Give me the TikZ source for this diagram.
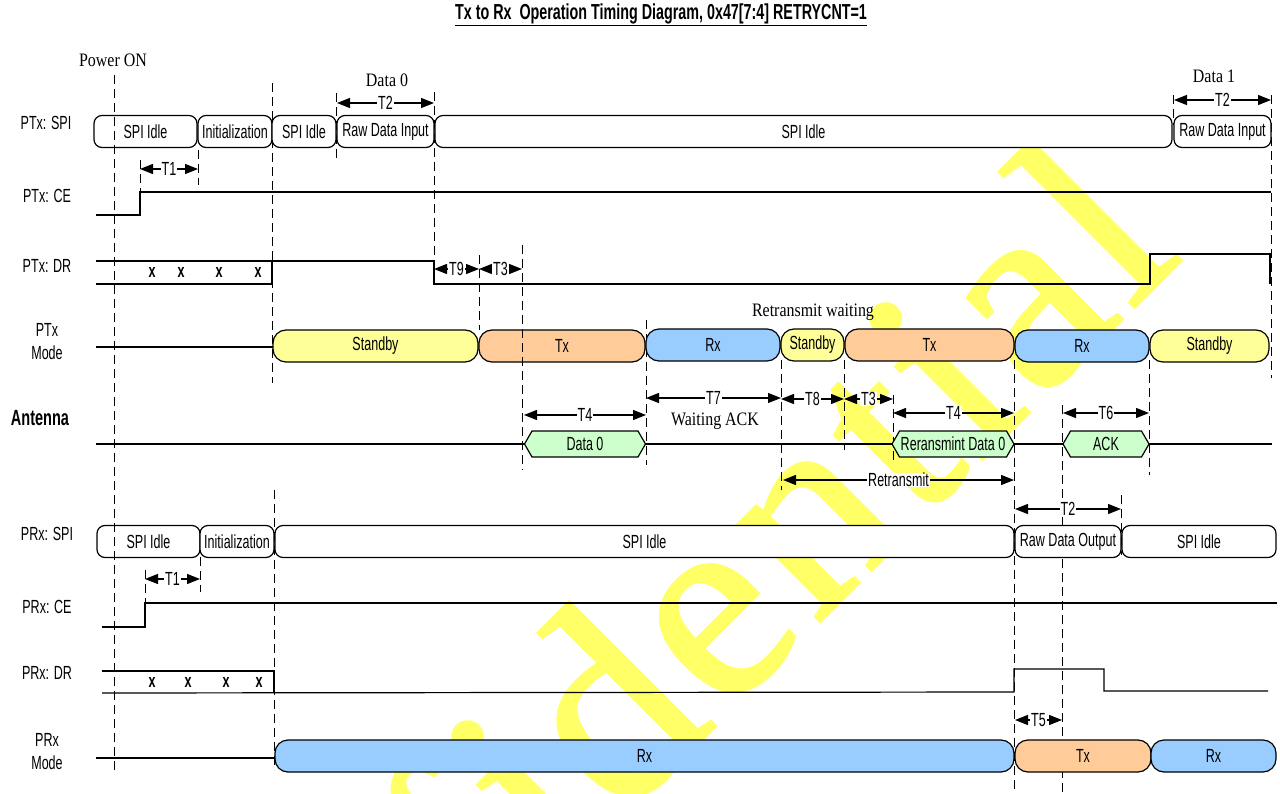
\documentclass[tikz,border=0pt]{standalone}
\usepackage{fontspec}
\setmainfont[FakeStretch=0.66]{Liberation Sans}
\newfontfamily\wordfont[FakeStretch=0.84]{Liberation Serif}
\newfontfamily\markfont[LetterSpace=3,FakeBold=1.2]{Liberation Serif}
\usetikzlibrary{positioning,arrows.meta,shapes.symbols}
\definecolor{standbycol}{HTML}{FFFF99}
\definecolor{txcol}{HTML}{FFCC99}
\definecolor{rxcol}{HTML}{99CCFF}
\definecolor{hexcol}{HTML}{CCFFCC}
\definecolor{markcol}{HTML}{FFFF66}
\begin{document}
\begin{tikzpicture}[
x=1pt, y=-1pt,
every node/.style={font=\fontsize{19}{21}\selectfont, inner sep=0pt, align=center},
spibox/.style={draw, line width=1.2pt, rounded corners=8pt, fill=white, minimum height=32pt, outer sep=0pt},
modebar/.style={draw, line width=1.2pt, rounded corners=13pt, minimum height=32pt, outer sep=0pt},
hexbar/.style={draw, line width=1.2pt, fill=hexcol, shape=signal, signal to=east and west, signal pointer angle=120, minimum height=26pt},
guide/.style={line width=1pt, dash pattern=on 9pt off 5pt},
wave/.style={line width=1.2pt},
span/.style={line width=1.2pt, {Triangle[length=13pt,width=10pt]}-{Triangle[length=13pt,width=10pt]}},
spanlabel/.style={fill=white, inner xsep=1pt, inner ysep=0pt},
wordlabel/.style={font=\fontsize{19}{21}\selectfont\wordfont},
rowlabel/.style={font=\fontsize{19}{23}\selectfont},
xlabel/.style={font=\fontsize{19}{21}\selectfont\bfseries}
]
\useasboundingbox (0,0) rectangle (1280,794);
\node[anchor=base west, rotate=45, text=markcol, font=\fontsize{275}{275}\selectfont\markfont] (watermark) at (148,1293) {Confidential};

\node[font=\fontsize{21.7}{24}\selectfont\bfseries] (title) at (661,15) {\underline{Tx to Rx\ \ Operation Timing Diagram, 0x47[7:4] RETRYCNT=1}};
\node[wordlabel] (poweron) at (113,60) {Power ON};
\node[wordlabel] (dataa) at (387,80) {Data 0};
\node[wordlabel] (datab) at (1214,76) {Data 1};
\node[wordlabel] (retrywait) at (813,312) {Retransmit waiting};
\node[wordlabel] (waitack) at (715,421) {Waiting ACK};

\node[rowlabel] (ptxspi) at (46,123) {PTx: SPI};
\node[rowlabel] (ptxce) at (47,196) {PTx: CE};
\node[rowlabel] (ptxdr) at (47,266) {PTx: DR};
\node[rowlabel] (ptxmode) at (47,342) {PTx\\Mode};
\node[font=\fontsize{22}{24}\selectfont\bfseries] (antenna) at (40,418) {Antenna};
\node[rowlabel] (prxspi) at (47,534) {PRx: SPI};
\node[rowlabel] (prxce) at (47,607) {PRx: CE};
\node[rowlabel] (prxdr) at (47,673) {PRx: DR};
\node[rowlabel] (prxmode) at (47,752) {PRx\\Mode};

\path (272,83) coordinate (ga) (272,383) coordinate (gb);
\path (274,490) coordinate (gc) (274,770) coordinate (gd);
\path (198,150) coordinate (ge) (198,185) coordinate (gf);
\path (140,160) coordinate (gg) (140,192) coordinate (gh);
\path (336,93) coordinate (gi) (336,160) coordinate (gj);
\path (434,92) coordinate (gk) (434,285) coordinate (gl);
\path (479,255) coordinate (gm) (479,330) coordinate (gn);
\path (646,320) coordinate (go) (646,465) coordinate (gp);
\path (781,360) coordinate (gq) (781,490) coordinate (gr);
\path (844,360) coordinate (gs) (844,450) coordinate (gt);
\path (893,395) coordinate (gu) (893,460) coordinate (gv);
\path (1014,360) coordinate (gw) (1014,794) coordinate (gx);
\path (1149,360) coordinate (gy) (1149,475) coordinate (gz);
\path (1062,405) coordinate (gaa) (1062,794) coordinate (gab);
\path (1121,495) coordinate (gac) (1121,555) coordinate (gad);
\path (1173,95) coordinate (gae) (1173,125) coordinate (gaf);
\path (1271,95) coordinate (gag) (1271,378) coordinate (gah);
\path (200,557) coordinate (gai) (200,592) coordinate (gaj);
\path (145,570) coordinate (gak) (145,603) coordinate (gal);
\draw[guide] (ga) -- (gb);
\draw[guide] (gc) -- (gd);
\draw[guide] (ge) -- (gf);
\draw[guide] (gg) -- (gh);
\draw[guide] (gi) -- (gj);
\draw[guide] (gk) -- (gl);
\draw[guide] (gm) -- (gn);
\draw[guide] (go) -- (gp);
\draw[guide] (gq) -- (gr);
\draw[guide] (gs) -- (gt);
\draw[guide] (gu) -- (gv);
\draw[guide] (gw) -- (gx);
\draw[guide] (gy) -- (gz);
\draw[guide] (gaa) -- (gab);
\draw[guide] (gac) -- (gad);
\draw[guide] (gae) -- (gaf);
\draw[guide] (gag) -- (gah);
\draw[guide] (gai) -- (gaj);
\draw[guide] (gak) -- (gal);

\draw[wave] (96,215) -- (140,215) -- (140,192) -- (1271,192);
\draw[wave] (96,261) -- (434,261) -- (434,284) -- (1150,284) -- (1150,254) -- (1270,254) -- (1270,284);
\draw[wave] (96,284) -- (272,284) -- (272,261);
\draw[wave] (102,627) -- (145,627) -- (145,603) -- (1277,603);
\draw[wave] (102,671) -- (274,671) -- (274,693);
\draw[wave] (102,693) -- (1014,692) -- (1014,669) -- (1104,669) -- (1104,691) -- (1268,691);
\draw[wave] (96,444) -- (1272,444);

\node[spibox, minimum width=103pt] (tspia) at (145.5,131.5) {SPI Idle};
\node[spibox, minimum width=74pt, right=1pt of tspia] (tspib) {Initialization};
\node[spibox, minimum width=64pt, right=0pt of tspib] (tspic) {SPI Idle};
\node[spibox, minimum width=97pt, right=1pt of tspic] (tspid) {Raw Data Input};
\node[spibox, minimum width=737pt, right=1pt of tspid] (tspie) {SPI Idle};
\node[spibox, minimum width=97pt, right=2pt of tspie] (tspif) {Raw Data Input};

\node[modebar, fill=standbycol, minimum width=205pt] (tstanda) at (375.5,346) {Standby};
\node[modebar, fill=txcol, minimum width=166pt, right=1pt of tstanda] (ttxa) {Tx};
\node[modebar, fill=rxcol, minimum width=134pt, right=1pt of ttxa, yshift=1pt] (trxa) {Rx};
\node[modebar, fill=standbycol, minimum width=63pt, right=1pt of trxa] (tstandb) {Standby};
\node[modebar, fill=txcol, minimum width=169pt, right=1pt of tstandb] (ttxb) {Tx};
\node[modebar, fill=rxcol, minimum width=134pt, right=1pt of ttxb, yshift=-1pt] (trxb) {Rx};
\node[modebar, fill=standbycol, minimum width=119pt, right=1pt of trxb] (tstandc) {Standby};
\coordinate (tline) at (96,347);
\draw[wave] (tline) -- (tstanda.west |- tline);

\node[hexbar, minimum width=121pt] (hexa) at (585,444) {Data 0};
\node[hexbar, minimum width=122pt] (hexb) at (953,444) {Reransmint Data 0};
\node[hexbar, minimum width=86pt] (hexc) at (1106,444) {ACK};

\node[spibox, minimum width=103pt] (rspia) at (148.5,541.5) {SPI Idle};
\node[spibox, minimum width=74pt, right=0pt of rspia] (rspib) {Initialization};
\node[spibox, minimum width=739pt, right=1pt of rspib] (rspic) {SPI Idle};
\node[spibox, minimum width=106pt, right=1pt of rspic] (rspid) {Raw Data Output};
\node[spibox, minimum width=154pt, right=1pt of rspid] (rspie) {SPI Idle};

\node[modebar, fill=rxcol, minimum width=739pt] (rrxa) at (644.5,756) {Rx};
\node[modebar, fill=txcol, minimum width=136pt, right=1pt of rrxa] (rtxa) {Tx};
\node[modebar, fill=rxcol, minimum width=125pt, right=0pt of rtxa] (rrxb) {Rx};
\coordinate (rline) at (96,758);
\draw[wave] (rline) -- (rrxa.west |- rline);

\path (114,75) coordinate (gpa) (114,772) coordinate (gpb);
\path (522,245) coordinate (gqa) (522,470) coordinate (gqb);
\draw[guide] (gpa) -- (gpb);
\draw[guide] (gqa) -- (gqb);

\node[xlabel] (xa) at (152,272) {x};
\node[xlabel] (xb) at (181,272) {x};
\node[xlabel] (xc) at (219,272) {x};
\node[xlabel] (xd) at (258,272) {x};
\node[xlabel] (xe) at (152,682) {x};
\node[xlabel] (xf) at (188,682) {x};
\node[xlabel] (xg) at (226,682) {x};
\node[xlabel] (xh) at (259,682) {x};

\path (140,169) coordinate (sa) (198,169) coordinate (sb);
\path (337,103) coordinate (sc) (434,103) coordinate (sd);
\path (434,269) coordinate (se) (479,269) coordinate (sf);
\path (479,269) coordinate (sg) (522,269) coordinate (sh);
\path (524,415) coordinate (si) (646,415) coordinate (sj);
\path (646,398) coordinate (sk) (781,398) coordinate (sl);
\path (781,399) coordinate (sm) (844,399) coordinate (sn);
\path (844,399) coordinate (so) (893,399) coordinate (sp);
\path (893,413) coordinate (sq) (1014,413) coordinate (sr);
\path (1063,413) coordinate (ss) (1149,413) coordinate (st);
\path (783,480) coordinate (su) (1014,480) coordinate (sv);
\path (1015,509) coordinate (sw) (1121,509) coordinate (sx);
\path (1174,100) coordinate (sy) (1271,100) coordinate (sz);
\path (145,579) coordinate (saa) (200,579) coordinate (sab);
\path (1015,720) coordinate (sac) (1062,720) coordinate (sad);
\draw[span] (sa) -- node[spanlabel] (tonea) {T1} (sb);
\draw[span] (sc) -- node[spanlabel] (ttwoa) {T2} (sd);
\draw[span] (se) -- node[spanlabel] (tnine) {T9} (sf);
\draw[span] (sg) -- node[spanlabel] (tthreea) {T3} (sh);
\draw[span] (si) -- node[spanlabel] (tfoura) {T4} (sj);
\draw[span] (sk) -- node[spanlabel] (tseven) {T7} (sl);
\draw[span] (sm) -- node[spanlabel] (teight) {T8} (sn);
\draw[span] (so) -- node[spanlabel] (tthreeb) {T3} (sp);
\draw[span] (sq) -- node[spanlabel] (tfourb) {T4} (sr);
\draw[span] (ss) -- node[spanlabel] (tsix) {T6} (st);
\draw[span] (su) -- node[spanlabel] (retransmit) {Retransmit} (sv);
\draw[span] (sw) -- node[spanlabel] (ttwob) {T2} (sx);
\draw[span] (sy) -- node[spanlabel] (ttwoc) {T2} (sz);
\draw[span] (saa) -- node[spanlabel] (toneb) {T1} (sab);
\draw[span] (sac) -- node[spanlabel] (tfive) {T5} (sad);
\end{tikzpicture}
\end{document}
